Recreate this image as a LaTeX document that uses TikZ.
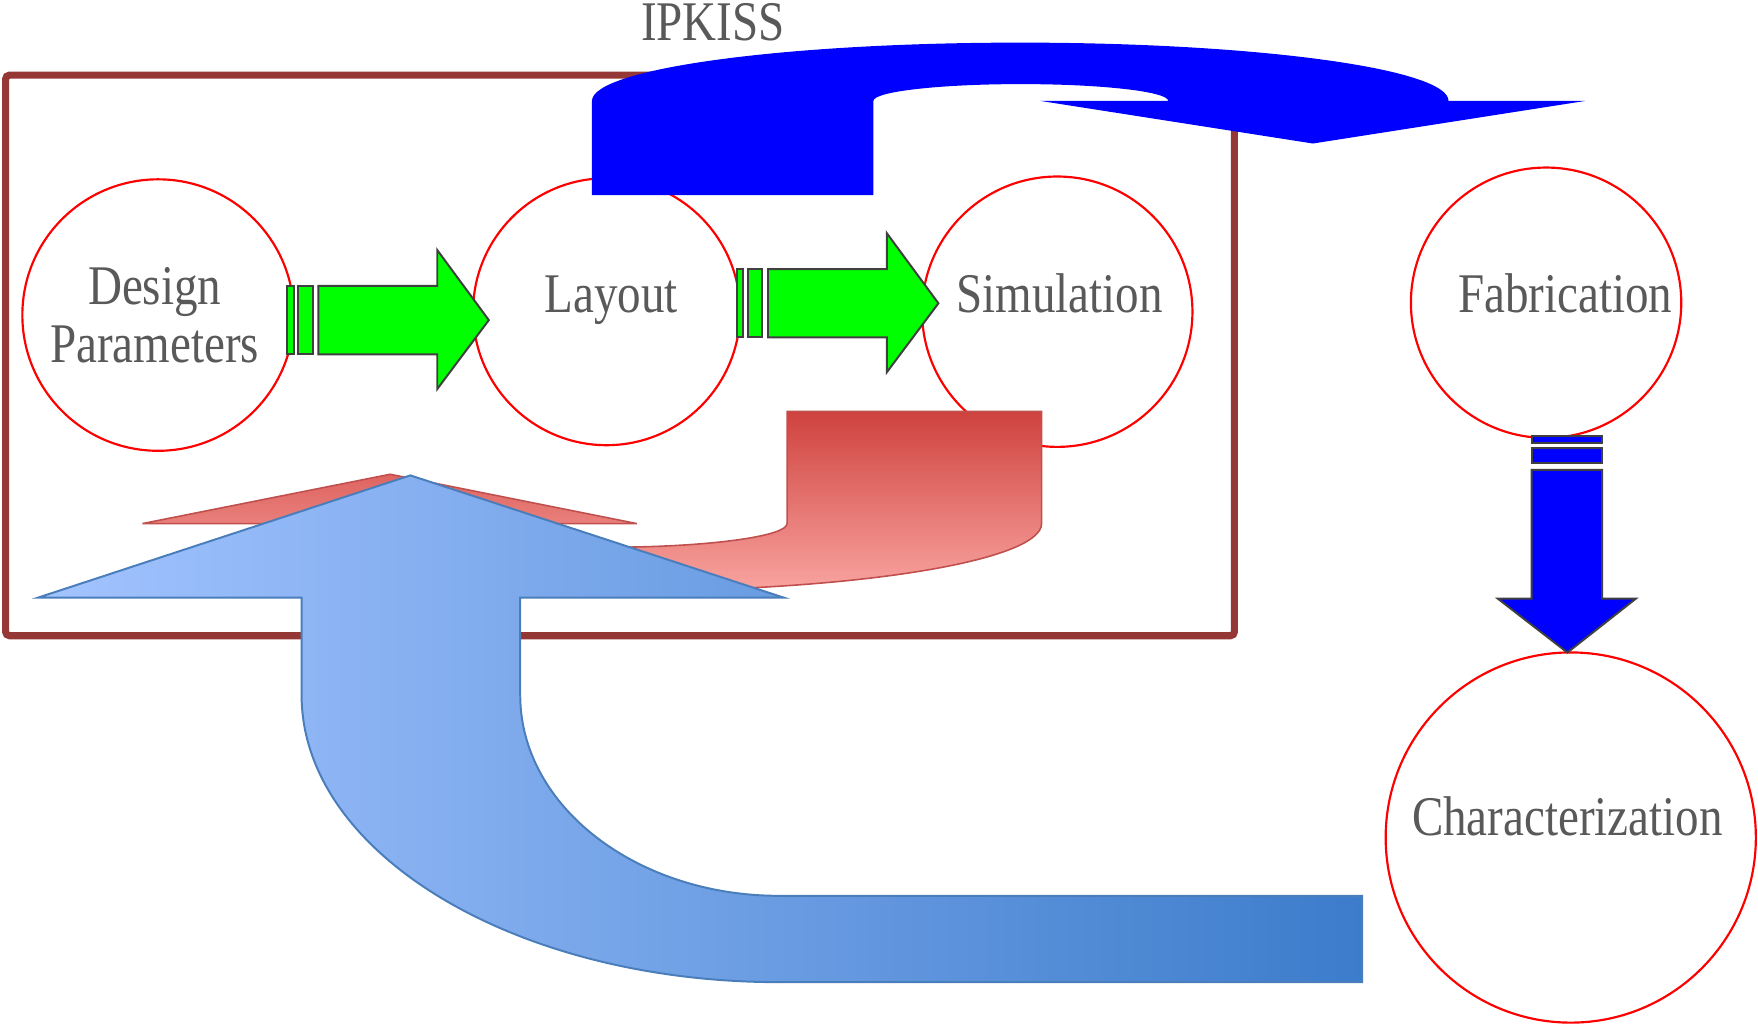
\documentclass[tikz,border=0pt]{standalone}
\usepackage{fontspec}
\usepackage{tikz}
\newfontfamily\lblfont{Liberation Serif}[FakeStretch=0.84]
\definecolor{framered}{RGB}{149, 55, 53}
\definecolor{bubblered}{RGB}{255, 0, 0}
\definecolor{labelgray}{RGB}{89, 89, 89}
\definecolor{arrowgreen}{RGB}{0, 255, 0}
\definecolor{arrowedge}{RGB}{64, 64, 64}
\definecolor{pureblue}{RGB}{0, 0, 255}
\definecolor{redtop}{RGB}{207, 66, 62}
\definecolor{redbottom}{RGB}{249, 164, 160}
\definecolor{rededge}{RGB}{192, 80, 77}
\definecolor{blueleft}{RGB}{163, 196, 255}
\definecolor{blueright}{RGB}{60, 124, 203}
\definecolor{blueedge}{RGB}{74, 126, 187}

\begin{document}
\begin{tikzpicture}[x=0.01cm, y=-0.01cm,
        bubble/.style={circle, draw=bubblered, line width=0.55pt, inner sep=0pt},
        lbl/.style={anchor=base, inner sep=0pt, text=labelgray, font=\lblfont\fontsize{14.2}{17}\selectfont},
        frame/.style={draw=framered, line width=1.8pt, rounded corners=1pt},
        greenarrow/.style={fill=arrowgreen, draw=arrowedge, line width=0.5pt},
        downarrow/.style={fill=pureblue, draw=arrowedge, line width=0.5pt},
        redarrow/.style={top color=redtop, bottom color=redbottom, draw=rededge, line width=0.4pt},
        bluearrow/.style={left color=blueleft, right color=blueright, draw=blueedge, line width=0.5pt}]
    \useasboundingbox (0,0) rectangle (1568,914);

    \draw[frame] (5,67) rectangle (1101,567);

    % Cerchi
    \node[bubble, minimum size=2.42cm] (design) at (141,281) {};
    \node[bubble, minimum size=2.38cm] (layout) at (541,278) {};
    \node[bubble, minimum size=2.41cm] (simulation) at (943,278) {};
    \node[bubble, minimum size=2.41cm] (fabrication) at (1379,270) {};
    \node[bubble, minimum size=3.30cm] (characterization) at (1401,747) {};

    \node[lbl] (designtxt) at (138,272) {Design};
    \node[lbl] (paramtxt) at (138,323) {Parameters};
    \node[lbl] (layouttxt) at (545,279) {Layout};
    \node[lbl] (simtxt) at (945,279) {Simulation};
    \node[lbl] (fabtxt) at (1396,279) {Fabrication};
    \node[lbl] (chartxt) at (1398,745) {Characterization};
    \node[lbl] (ipkiss) at (636,36) {IPKISS};

    % Frecce verdi
    \foreach \dx/\dy in {0/0, 401/-15} {
        \begin{scope}[shift={(\dx,\dy)}]
            \draw[greenarrow] (256,255) rectangle (262,316);
            \draw[greenarrow] (266,255) rectangle (279,316);
            \draw[greenarrow] (284,255) -- (390,255) -- (390,223) -- (436,285.5)
                -- (390,347) -- (390,316) -- (284,316) -- cycle;
        \end{scope}
    }

    % Freccia blu in alto
    \fill[pureblue] (528,174) -- (528,90) .. controls (528,61.3) and (699,38) .. (910,38)
        .. controls (1121,38) and (1292,61.3) .. (1292,90) -- (1414,90) -- (1171,128)
        -- (928,90) -- (1042,90) .. controls (1042,81.7) and (983,75) .. (910.5,75)
        .. controls (838,75) and (779,81.7) .. (779,90) -- (779,174) -- cycle;

    % Freccia blu verso il basso
    \draw[downarrow] (1366,389) rectangle (1429,395);
    \draw[downarrow] (1366,400) rectangle (1429,413);
    \draw[downarrow] (1366,419) -- (1429,419) -- (1429,534) -- (1459,534) -- (1398,582)
        -- (1336,534) -- (1366,534) -- cycle;

    % Freccia rossa
    \draw[redarrow] (127,467) -- (348,423) -- (568,467) -- (480,467) -- (558,488)
        .. controls (637,487) and (702,478) .. (702,467) -- (702,367) -- (929,367)
        -- (929,467) .. controls (929,500.1) and (763.8,527) .. (560,527)
        -- (300,510) -- (240,467) -- cycle;

    % Freccia di ritorno
    \draw[bluearrow] (1215,799) -- (695,799) .. controls (567.4,799) and (464,718.9) .. (464,620)
        -- (464,533) -- (699,533) -- (366,424) -- (34,533) -- (269,533) -- (269,620)
        .. controls (269,761.4) and (459.7,876) .. (695,876) -- (1215,876) -- cycle;
\end{tikzpicture}
\end{document}
